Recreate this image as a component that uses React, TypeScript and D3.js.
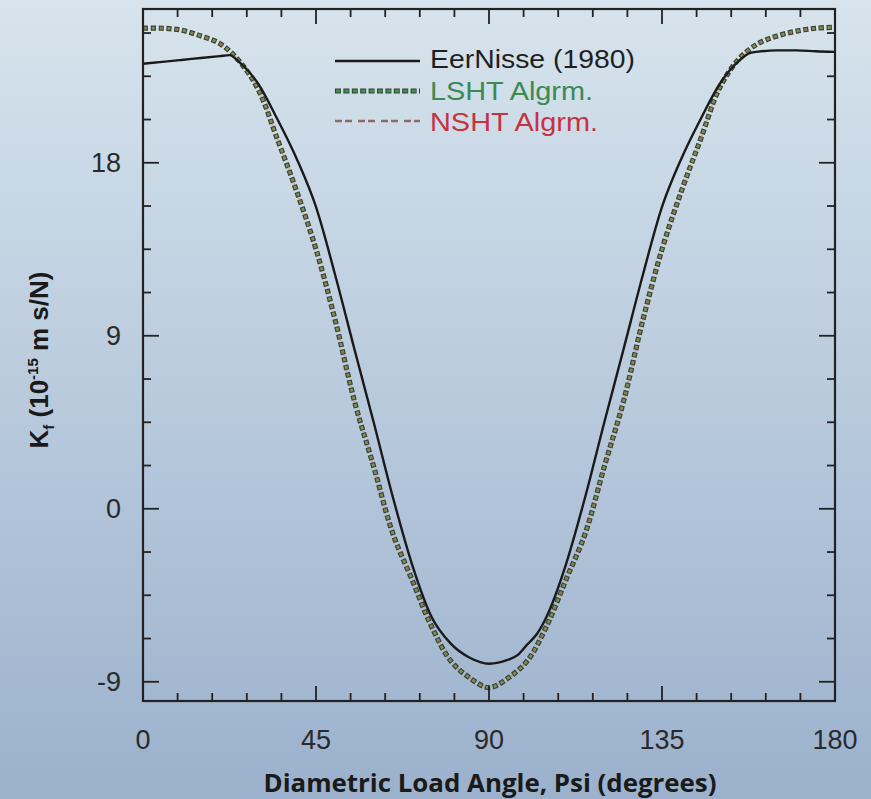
import React from "react";
import * as d3 from "d3";

const eerAngles = [0, 5, 10, 15, 20, 22.5, 25, 30, 35, 40, 45, 50, 55, 60, 65, 70, 75, 80, 85, 90, 95, 97.5, 100, 102.5, 105, 110, 115, 120, 125, 130, 135, 140, 145, 150, 155, 158, 160, 165, 170, 175, 180];
const eerValues = [23.15, 23.25, 23.35, 23.45, 23.55, 23.6, 23.25, 22.1, 20.25, 18.2, 15.7, 12.15, 8.3, 4.5, 0.6, -2.9, -5.6, -7.0, -7.75, -8.06, -7.85, -7.6, -7.05, -6.5, -5.6, -2.9, 0.6, 4.5, 8.3, 12.15, 15.7, 18.2, 20.25, 22.1, 23.3, 23.72, 23.78, 23.85, 23.85, 23.8, 23.77];

const algAngles = [0, 5, 10, 15, 20, 25, 30, 35, 40, 45, 50, 55, 60, 65, 70, 75, 80, 85, 90, 95, 100, 105, 110, 115, 120, 125, 130, 135, 140, 145, 150, 155, 160, 165, 170, 175, 180];
const lshtValues = [25.0, 25.0, 24.9, 24.6, 24.2, 23.3, 21.8, 19.2, 16.5, 13.5, 9.8, 5.6, 2.2, -1.3, -3.7, -6.1, -7.9, -8.8, -9.3, -8.8, -7.9, -6.1, -3.7, -1.3, 2.2, 5.6, 9.8, 13.5, 16.5, 19.2, 21.9, 23.4, 24.2, 24.6, 24.85, 25.0, 25.05];
const nshtValues = [25.0, 25.0, 24.9, 24.6, 24.2, 23.3, 21.8, 19.2, 16.5, 13.5, 9.8, 5.6, 2.2, -1.3, -3.7, -6.1, -7.9, -8.8, -9.3, -8.8, -7.9, -6.1, -3.7, -1.3, 2.2, 5.6, 9.8, 13.5, 16.5, 19.2, 21.9, 23.4, 24.2, 24.6, 24.85, 25.0, 25.05];

const xMajorTicks = [0, 45, 90, 135, 180];
const xMinorTicks = [9, 18, 27, 36, 54, 63, 72, 81, 99, 108, 117, 126, 144, 153, 162, 171];
const yMajorTicks = [-9, 0, 9, 18];
const yMinorTicks = [-6.75, -4.5, -2.25, 2.25, 4.5, 6.75, 11.25, 13.5, 15.75, 20.25, 22.5, 24.75];

const legendLabels = ["EerNisse (1980)", "LSHT Algrm.", "NSHT Algrm."];

const W = 871;
const H = 799;
const L = 143, R = 835, T = 9, B = 701;

export default function App() {
  const x = d3.scaleLinear().domain([0, 180]).range([L, R]);
  const y = d3.scaleLinear().domain([-10, 26]).range([B, T]);

  const eerLine = d3
    .line<number>()
    .x((_, i) => x(eerAngles[i]))
    .y((d) => y(d))
    .curve(d3.curveMonotoneX);
  const algLine = d3
    .line<number>()
    .x((_, i) => x(algAngles[i]))
    .y((d) => y(d))
    .curve(d3.curveCatmullRom);

  const axisColor = "#222";
  const tickFont = "'Liberation Sans', Arial, sans-serif";

  const lx1 = 335, lx2 = 420;
  const ly = [61, 91, 121];

  return (
    <svg
      width={W}
      height={H}
      style={{ position: "absolute", left: 0, top: 0 }}
      xmlns="http://www.w3.org/2000/svg"
    >
      <defs>
        <linearGradient id="bg" x1="0" y1="0" x2="0" y2="1">
          <stop offset="0" stopColor="#d7e4ed" />
          <stop offset="0.5" stopColor="#b9cadd" />
          <stop offset="1" stopColor="#9bb1cc" />
        </linearGradient>
        <clipPath id="plotClip">
          <rect x={L} y={T - 4} width={R - L} height={B - T + 8} />
        </clipPath>
      </defs>
      <rect x={0} y={0} width={W} height={H} fill="url(#bg)" />

      {/* curves */}
      <g clipPath="url(#plotClip)">
        <path d={algLine(lshtValues) || ""} fill="none" stroke="#3a4430" strokeWidth={5.2} strokeDasharray="5.2 2.6" />
        <path d={algLine(lshtValues) || ""} fill="none" stroke="#7f8f55" strokeWidth={2.8} strokeDasharray="3 4.8" strokeDashoffset={-1.1} />
        <path d={algLine(nshtValues) || ""} fill="none" stroke="#c04848" strokeWidth={2.2} strokeDasharray="4 12" opacity={0.3} />
        <path d={eerLine(eerValues) || ""} fill="none" stroke="#1a1a1a" strokeWidth={2.4} />
      </g>

      {/* frame */}
      <rect x={L} y={T} width={R - L} height={B - T} fill="none" stroke={axisColor} strokeWidth={2.2} />

      {/* x ticks */}
      {xMajorTicks.map((t) => (
        <g key={"xM" + t}>
          <line x1={x(t)} x2={x(t)} y1={B} y2={B - 15} stroke={axisColor} strokeWidth={1.8} />
          <line x1={x(t)} x2={x(t)} y1={T} y2={T + 15} stroke={axisColor} strokeWidth={1.8} />
          <text x={x(t)} y={749} textAnchor="middle" fontFamily={tickFont} fontSize={27} fill="#2a2a2a">
            {t}
          </text>
        </g>
      ))}
      {xMinorTicks.map((t) => (
        <g key={"xm" + t}>
          <line x1={x(t)} x2={x(t)} y1={B} y2={B - 8} stroke={axisColor} strokeWidth={1.8} />
          <line x1={x(t)} x2={x(t)} y1={T} y2={T + 8} stroke={axisColor} strokeWidth={1.8} />
        </g>
      ))}

      {/* y ticks */}
      {yMajorTicks.map((t) => (
        <g key={"yM" + t}>
          <line x1={L} x2={L + 16} y1={y(t)} y2={y(t)} stroke={axisColor} strokeWidth={1.8} />
          <line x1={R} x2={R - 16} y1={y(t)} y2={y(t)} stroke={axisColor} strokeWidth={1.8} />
          <text x={121} y={y(t) + 9.5} textAnchor="end" fontFamily={tickFont} fontSize={27} fill="#2a2a2a">
            {t}
          </text>
        </g>
      ))}
      {yMinorTicks.map((t) => (
        <g key={"ym" + t}>
          <line x1={L} x2={L + 8} y1={y(t)} y2={y(t)} stroke={axisColor} strokeWidth={1.8} />
          <line x1={R} x2={R - 8} y1={y(t)} y2={y(t)} stroke={axisColor} strokeWidth={1.8} />
        </g>
      ))}

      {/* y axis title */}
      <text
        transform="translate(48,360) rotate(-90)"
        textAnchor="middle"
        fontFamily={tickFont}
        fontWeight="bold"
        fontSize={26}
        fill="#1a1a1a"
      >
        K<tspan fontSize={15} dy={6}>f</tspan>
        <tspan dy={-6}> (10</tspan>
        <tspan fontSize={15} dy={-10}>-15</tspan>
        <tspan dy={10}> m s/N)</tspan>
      </text>

      {/* x axis title */}
      <text
        x={490}
        y={792}
        textAnchor="middle"
        fontFamily="'Open Sans', 'DejaVu Sans', sans-serif"
        fontWeight="bold"
        fontSize={25}
        textLength={453}
        lengthAdjust="spacingAndGlyphs"
        fill="#1a1a1a"
      >
        Diametric Load Angle, Psi (degrees)
      </text>

      {/* legend */}
      <line x1={lx1} x2={lx2} y1={ly[0]} y2={ly[0]} stroke="#1a1a1a" strokeWidth={2.4} />
      <line x1={lx1} x2={lx2} y1={ly[1]} y2={ly[1]} stroke="#34402e" strokeWidth={5} strokeDasharray="6 2.4" />
      <line x1={lx1 + 1} x2={lx2} y1={ly[1]} y2={ly[1]} stroke="#3f9055" strokeWidth={3} strokeDasharray="4.4 4" />
      <line x1={lx1} x2={lx2} y1={ly[2]} y2={ly[2]} stroke="#8d6a6a" strokeWidth={2.6} strokeDasharray="7 3 7 6" />
      <text x={430} y={68} fontFamily={tickFont} fontSize={25} textLength={205} lengthAdjust="spacingAndGlyphs" fill="#1f1f1f">{legendLabels[0]}</text>
      <text x={430} y={100} fontFamily={tickFont} fontSize={25} textLength={163} lengthAdjust="spacingAndGlyphs" fill="#3a8a52">{legendLabels[1]}</text>
      <text x={430} y={131} fontFamily={tickFont} fontSize={25} textLength={168} lengthAdjust="spacingAndGlyphs" fill="#c8323e">{legendLabels[2]}</text>
    </svg>
  );
}
